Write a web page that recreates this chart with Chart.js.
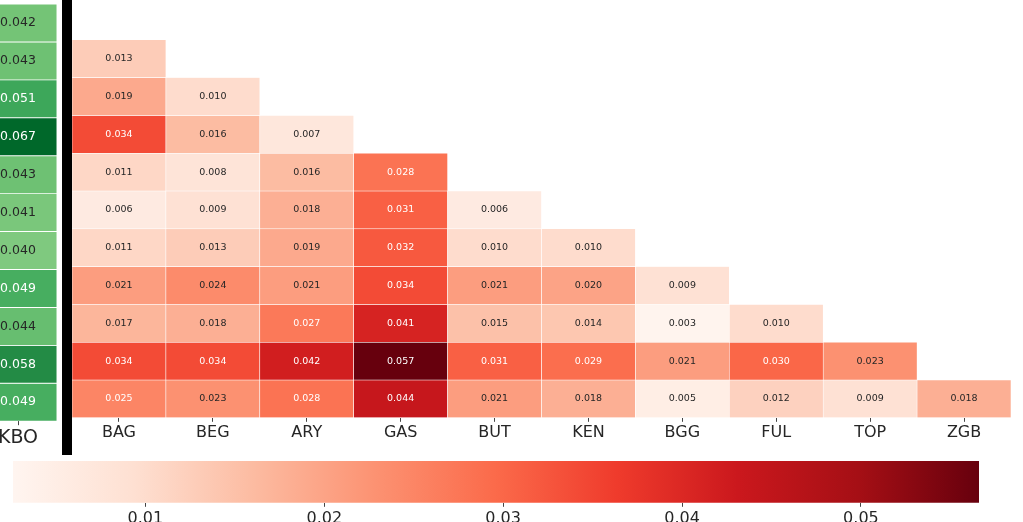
<!DOCTYPE html>
<html>
<head>
<meta charset="utf-8">
<script src="https://cdn.jsdelivr.net/npm/chart.js@4"></script>
<style>
  html, body { margin: 0; padding: 0; background: #fff; overflow: hidden; }
  #wrap { position: relative; width: 1023px; height: 522px; overflow: hidden; }
  canvas { position: absolute; }
  #divider { position: absolute; left: 62px; top: 0; width: 10px; height: 455px; background: #000; }
</style>
</head>
<body>
<div id="wrap">
  <canvas id="kbo" width="90" height="450" style="left:-30px;top:0"></canvas>
  <div id="divider"></div>
  <canvas id="fst" width="1023" height="443" style="left:0;top:0"></canvas>
  <canvas id="cbar" width="1023" height="75" style="left:0;top:455px"></canvas>
</div>
<script>
// pairwise values, lower triangle (row i has i entries)
const populations = ['BAG', 'BEG', 'ARY', 'GAS', 'BUT', 'KEN', 'BGG', 'FUL', 'TOP', 'ZGB'];
const fstRows = [
    [],
    [0.013],
    [0.019, 0.010],
    [0.034, 0.016, 0.007],
    [0.011, 0.008, 0.016, 0.028],
    [0.006, 0.009, 0.018, 0.031, 0.006],
    [0.011, 0.013, 0.019, 0.032, 0.010, 0.010],
    [0.021, 0.024, 0.021, 0.034, 0.021, 0.020, 0.009],
    [0.017, 0.018, 0.027, 0.041, 0.015, 0.014, 0.003, 0.010],
    [0.034, 0.034, 0.042, 0.057, 0.031, 0.029, 0.021, 0.030, 0.023],
    [0.025, 0.023, 0.028, 0.044, 0.021, 0.018, 0.005, 0.012, 0.009, 0.018]
];
const kboLabel = ['KBO'];
const kboFst = [0.042, 0.043, 0.051, 0.067, 0.043, 0.041, 0.040, 0.049, 0.044, 0.058, 0.049];
const cbarTicks = [0.01, 0.02, 0.03, 0.04, 0.05];

// colour limits
const redMin = 0.0026, redMax = 0.0566;
const greenMin = 0.010, greenMax = 0.074;

const FONT = 'DejaVu Sans';
const DARK = '#262626';

const reds = ['#fff5f0', '#fee0d2', '#fcbba1', '#fc9272', '#fb6a4a', '#ef3b2c', '#cb181d', '#a50f15', '#67000d'];
const greens = ['#f7fcf5', '#e5f5e0', '#c7e9c0', '#a1d99b', '#74c476', '#41ab5d', '#238b45', '#006d2c', '#00441b'];

function hexRgb(h) {
    return [1, 3, 5].map(i => parseInt(h.slice(i, i + 2), 16));
}

function sampleMap(stops, t) {
    t = Math.max(0, Math.min(1, t));
    const pos = t * (stops.length - 1);
    const i = Math.min(Math.floor(pos), stops.length - 2);
    const f = pos - i;
    const a = hexRgb(stops[i]), b = hexRgb(stops[i + 1]);
    return a.map((v, k) => Math.round(v + (b[k] - v) * f));
}

function rgbStr(c) {
    return 'rgb(' + c.join(',') + ')';
}

// white text on dark cells, dark text otherwise
function textFor(c) {
    const lin = c.map(v => {
        v /= 255;
        return v <= 0.03928 ? v / 12.92 : Math.pow((v + 0.055) / 1.055, 2.4);
    });
    const lum = 0.2126 * lin[0] + 0.7152 * lin[1] + 0.0722 * lin[2];
    return lum > 0.40 ? DARK : '#ffffff';
}

function cellLabels(id, size) {
    return {
        id: id,
        afterDatasetsDraw(chart) {
            const ctx = chart.ctx;
            ctx.save();
            ctx.font = size + 'px "' + FONT + '"';
            ctx.textAlign = 'center';
            ctx.textBaseline = 'middle';
            chart.data.datasets.forEach((ds, di) => {
                const meta = chart.getDatasetMeta(di);
                meta.data.forEach((el, j) => {
                    if (ds.data[j] == null) return;
                    ctx.fillStyle = ds.textColors[j];
                    ctx.fillText(ds.values[j].toFixed(3), el.x, (el.y + el.base) / 2);
                });
            });
            ctx.restore();
        }
    };
}

function heatOptions(pad, labelSize) {
    return {
        responsive: false,
        animation: false,
        events: [],
        layout: { padding: pad },
        plugins: { legend: { display: false }, tooltip: { enabled: false } },
        scales: {
            x: {
                type: 'category',
                offset: true,
                grid: { display: true, drawOnChartArea: false, offset: false, tickLength: 4, color: '#444' },
                border: { display: false },
                ticks: { color: DARK, font: { family: FONT, size: labelSize }, padding: 1, maxRotation: 0, autoSkip: false }
            },
            y: { type: 'linear', min: 0, max: 11, reverse: true, display: false }
        }
    };
}

function redRow(row) {
    return row.map(v => sampleMap(reds, (v - redMin) / (redMax - redMin)));
}

// triangular matrix
const fstDatasets = fstRows.map((row, r) => {
    const cols = redRow(row);
    return {
        data: populations.map((p, j) => j < row.length ? [r, r + 1] : null),
        values: row,
        backgroundColor: populations.map((p, j) => j < row.length ? rgbStr(cols[j]) : 'rgba(0,0,0,0)'),
        textColors: cols.map(textFor),
        borderColor: '#ffffff',
        borderWidth: 0.6,
        borderSkipped: false,
        barPercentage: 1,
        categoryPercentage: 1,
        grouped: false
    };
});

new Chart(document.getElementById('fst'), {
    type: 'bar',
    data: { labels: populations, datasets: fstDatasets },
    options: heatOptions({ left: 72, right: 12, top: 2, bottom: 0 }, 16),
    plugins: [cellLabels('fstLabels', 9.5)]
});

// single column for KBO
const kboDatasets = kboFst.map((v, r) => {
    const c = sampleMap(greens, (v - greenMin) / (greenMax - greenMin));
    return {
        data: [[r, r + 1]],
        values: [v],
        backgroundColor: rgbStr(c),
        textColors: [textFor(c)],
        borderColor: '#ffffff',
        borderWidth: 0.8,
        borderSkipped: false,
        barPercentage: 1,
        categoryPercentage: 1,
        grouped: false
    };
});

new Chart(document.getElementById('kbo'), {
    type: 'bar',
    data: { labels: kboLabel, datasets: kboDatasets },
    options: heatOptions({ left: 9, right: 3, top: 4, bottom: 0 }, 19),
    plugins: [cellLabels('kboLabels', 12.5)]
});

// colour bar
function barGradient(context) {
    const area = context.chart.chartArea;
    if (!area) return null;
    const g = context.chart.ctx.createLinearGradient(area.left, 0, area.right, 0);
    reds.forEach((c, i) => g.addColorStop(i / (reds.length - 1), c));
    return g;
}

new Chart(document.getElementById('cbar'), {
    type: 'bar',
    data: {
        labels: ['scale'],
        datasets: [{
            data: [[redMin, redMax]],
            backgroundColor: barGradient,
            borderWidth: 0,
            barPercentage: 1,
            categoryPercentage: 1
        }]
    },
    options: {
        indexAxis: 'y',
        responsive: false,
        animation: false,
        events: [],
        layout: { padding: { left: 13, right: 44, top: 6, bottom: 0 } },
        plugins: { legend: { display: false }, tooltip: { enabled: false } },
        scales: {
            x: {
                type: 'linear',
                min: redMin,
                max: redMax,
                afterBuildTicks: axis => { axis.ticks = cbarTicks.map(v => ({ value: v })); },
                grid: { display: true, drawOnChartArea: false, tickLength: 4, color: '#444' },
                border: { display: false },
                ticks: { color: DARK, font: { family: FONT, size: 16 }, padding: 2, callback: v => v.toFixed(2) }
            },
            y: { type: 'category', display: false }
        }
    }
});
</script>
</body>
</html>
